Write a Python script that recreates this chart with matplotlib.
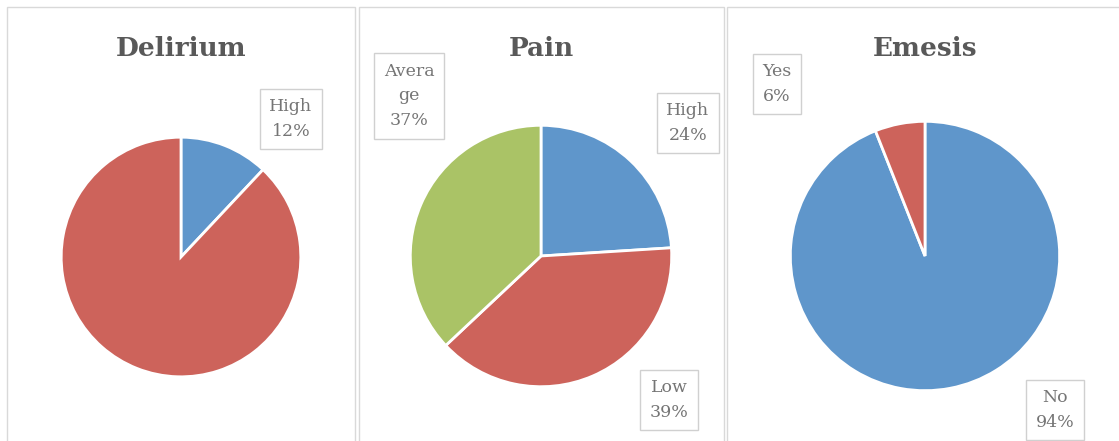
import matplotlib
matplotlib.use("Agg")
import matplotlib.pyplot as plt
from matplotlib.patches import Rectangle

W, H = 1119, 441
DPI = 100

titles = ["Delirium", "Pain", "Emesis"]
delirium_labels = ["High", "Low"]
delirium_values = [12, 88]
pain_labels = ["High", "Low", "Average"]
pain_values = [24, 39, 37]
emesis_labels = ["No", "Yes"]
emesis_values = [94, 6]

BLUE = "#5F96CB"
RED = "#CD635B"
GREEN = "#AAC366"

panels = [
    dict(title="Delirium", labels=delirium_labels, values=delirium_values,
         colors=[BLUE, RED], center=(181, 257), r=121,
         label_txt=["High\n12%", None],
         label_pos=[(291, 119), None],
         box=(7, 355)),
    dict(title="Pain", labels=pain_labels, values=pain_values,
         colors=[BLUE, RED, GREEN], center=(541, 256), r=132,
         label_txt=["High\n24%", "Low\n39%", "Avera\nge\n37%"],
         label_pos=[(688, 123), (669, 400), (409, 96)],
         box=(359, 724)),
    dict(title="Emesis", labels=emesis_labels, values=emesis_values,
         colors=[BLUE, RED], center=(925, 256), r=136,
         label_txt=["No\n94%", "Yes\n6%"],
         label_pos=[(1055, 410), (777, 84)],
         box=(727, 1125)),
]

fig = plt.figure(figsize=(W / DPI, H / DPI), dpi=DPI)
fig.patch.set_facecolor("white")

def fx(x):
    return x / W

def fy(y):
    return 1 - y / H

# panel borders
for p in panels:
    x0, x1 = p["box"]
    fig.patches.append(Rectangle((fx(x0), fy(460)), fx(x1 - x0), (460 - 7) / H,
                                 transform=fig.transFigure, fill=False,
                                 edgecolor="#D9D9D9", linewidth=1.0))

serif = ["DejaVu Serif"]
for p in panels:
    cx, cy = p["center"]
    r = p["r"]
    ax = fig.add_axes([fx(cx - r), fy(cy + r), 2 * r / W, 2 * r / H])
    ax.pie(p["values"], colors=p["colors"], startangle=90, counterclock=False,
           radius=1, wedgeprops=dict(edgecolor="white", linewidth=2))
    ax.set_xlim(-1.01, 1.01)
    ax.set_ylim(-1.01, 1.01)
    ax.set_aspect("auto")
    ax.axis("off")
    fig.text(fx(cx), fy(49), p["title"], ha="center", va="center",
             fontsize=19, fontweight="bold", color="#595959", family=serif)
    for txt, pos in zip(p["label_txt"], p["label_pos"]):
        if txt is None:
            continue
        fig.text(fx(pos[0]), fy(pos[1]), txt, ha="center", va="center",
                 fontsize=12.5, color="#757575", family=serif, linespacing=1.6,
                 bbox=dict(boxstyle="square,pad=0.55", facecolor="white",
                           edgecolor="#D0D0D0", linewidth=1))

fig.savefig("out.png", dpi=DPI)
